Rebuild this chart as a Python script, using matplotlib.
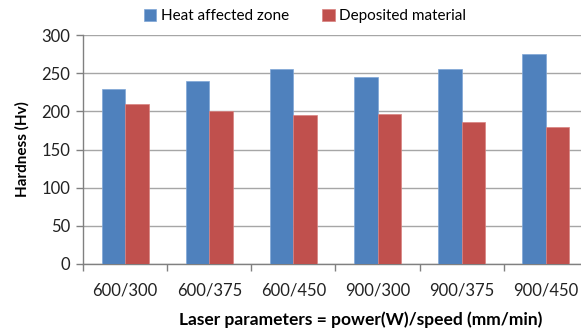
import matplotlib
matplotlib.use("Agg")
import matplotlib.pyplot as plt
import numpy as np

plt.rcParams['font.family'] = ['Lato', 'DejaVu Sans']

# hardness readings per laser setting
settings = ["600/300", "600/375", "600/450", "900/300", "900/375", "900/450"]
haz = [229, 240, 256, 245, 256, 275]
deposited = [209, 200, 195, 196, 186, 180]

blue = '#4F81BD'
red = '#C0504D'

fig = plt.figure(figsize=(5.81, 3.32), dpi=100)
ax = fig.add_axes([83/581, 68/332, 505/581, 229/332])

x = np.arange(len(settings))
w = 0.28
ax.bar(x - w/2, haz, w, color=blue, edgecolor='#7FA6D6', linewidth=0.5,
       label='Heat affected zone', zorder=3)
ax.bar(x + w/2, deposited, w, color=red, edgecolor='#D98280', linewidth=0.5,
       label='Deposited material', zorder=3)

ax.set_xlim(-0.5, len(settings) - 0.5)
ax.set_ylim(0, 300)
ax.set_yticks(np.arange(0, 301, 50))
ax.yaxis.grid(True, color='#A6A6A6', linewidth=1.0, zorder=0)
ax.set_axisbelow(True)

# labels in the middle, tick marks on the category boundaries
ax.set_xticks(x)
ax.set_xticklabels(settings, fontsize=12, color='#222222')
ax.tick_params(axis='x', which='major', length=0, pad=13)
ax.set_xticks(np.arange(-0.5, len(settings)), minor=True)
ax.tick_params(axis='x', which='minor', length=5, color='#808080', width=1)
ax.tick_params(axis='y', length=5, color='#808080', width=1,
               labelsize=12, labelcolor='#222222', pad=4)

for s in ['top', 'right']:
    ax.spines[s].set_visible(False)
for s in ['left', 'bottom']:
    ax.spines[s].set_color('#808080')
    ax.spines[s].set_linewidth(1)

ax.set_ylabel('Hardness (Hv)', fontsize=11, fontweight='bold', labelpad=9)
fig.text(361/581, 1 - 320/332, 'Laser parameters = power(W)/speed (mm/min)',
         ha='center', va='center', fontsize=12.5, fontweight='bold')

fig.legend(loc='center', bbox_to_anchor=(305/581, 1 - 16/332), ncol=2,
           frameon=False, fontsize=11, handlelength=0.8, handleheight=0.8,
           handletextpad=0.3, columnspacing=2.2)

fig.savefig('out.png', dpi=100)
